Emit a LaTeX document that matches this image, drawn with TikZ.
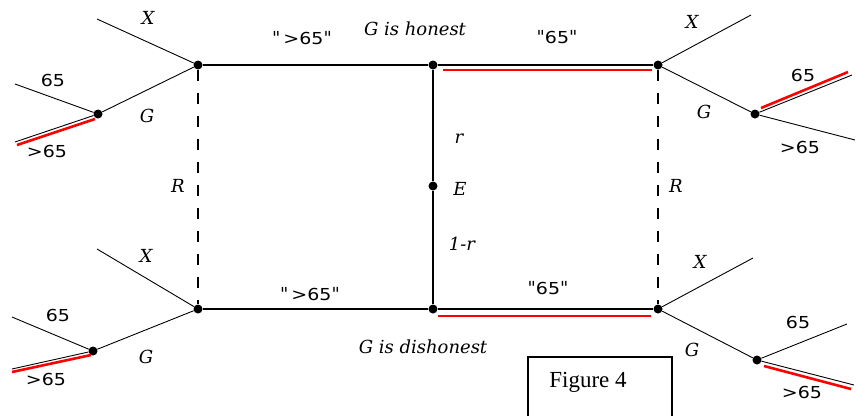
\documentclass[tikz,border=0pt]{standalone}
\usepackage{fontspec}
\setmainfont{Liberation Serif}
\newfontfamily\lblfont{DejaVu Serif}
\newfontfamily\numfont{DejaVu Sans}[FakeStretch=1.15]
\begin{document}
\begin{tikzpicture}[x=1pt,y=-1pt,
  thinl/.style={line width=0.9pt},
  mainl/.style={line width=1.3pt},
  redl/.style={red, line width=2.6pt},
  dashl/.style={line width=1.2pt, dash pattern=on 11pt off 12pt},
  dot/.style={circle, fill=black, inner sep=0pt, minimum size=9pt},
  lbl/.style={font=\lblfont\itshape\fontsize{18}{20}\selectfont, inner sep=0pt},
  num/.style={font=\numfont\fontsize{16.5}{18}\selectfont, inner sep=0pt}]
\useasboundingbox (0,0) rectangle (856,416);
% main nodes
\node[dot] (tl) at (198,65) {};
\node[dot] (tm) at (433,65) {};
\node[dot] (tr) at (658,65) {};
\node[dot] (e)  at (433,186) {};
\node[dot] (bl) at (198,309) {};
\node[dot] (bm) at (433,309) {};
\node[dot] (br) at (658,309) {};
\node[dot] (tlg) at (98,114) {};
\node[dot] (blg) at (93,351) {};
\node[dot] (trg) at (755,114) {};
\node[dot] (brg) at (757,360) {};
% free ends
\coordinate (tlx) at (97,19);  \coordinate (tl65) at (15,84);  \coordinate (tlgt) at (15,142);
\coordinate (blx) at (97,249); \coordinate (bl65) at (12,317); \coordinate (blgt) at (12,369);
\coordinate (trx) at (751,15); \coordinate (tr65) at (852,75); \coordinate (trgt) at (855,140);
\coordinate (brx) at (753,258);\coordinate (br65) at (847,324);\coordinate (brgt) at (854,385);
% red parallel strokes
\coordinate (r1a) at (443,70);  \coordinate (r1b) at (652,70);
\coordinate (r2a) at (438,316); \coordinate (r2b) at (651,316);
\coordinate (r3a) at (95,119);  \coordinate (r3b) at (17,145);
\coordinate (r4a) at (91,355);  \coordinate (r4b) at (12,372);
\coordinate (r5a) at (761,108); \coordinate (r5b) at (848,72);
\coordinate (r6a) at (764,366); \coordinate (r6b) at (851,389);
% rectangle
\draw[mainl] (tl) -- (tm) -- (tr);
\draw[mainl] (bl) -- (bm) -- (br);
\draw[mainl] (tm) -- (e) -- (bm);
\draw[dashl] (tl) -- (bl);
\draw[dashl] (tr) -- (br);
% branches
\draw[thinl] (tlx) -- (tl) -- (tlg);
\draw[thinl] (tl65) -- (tlg) -- (tlgt);
\draw[thinl] (blx) -- (bl) -- (blg);
\draw[thinl] (bl65) -- (blg) -- (blgt);
\draw[thinl] (trx) -- (tr) -- (trg);
\draw[thinl] (tr65) -- (trg) -- (trgt);
\draw[thinl] (brx) -- (br) -- (brg);
\draw[thinl] (br65) -- (brg) -- (brgt);
% red
\foreach \a/\b in {r1a/r1b,r2a/r2b,r3a/r3b,r4a/r4b,r5a/r5b,r6a/r6b}
  \draw[redl] (\a) -- (\b);
% labels
\node[lbl] (ltlx) at (148,18) {X};
\node[num] (ltl65) at (53,80) {65};
\node[lbl] (ltlg) at (147,116) {G};
\node[num] (ltlgt) at (47,151) {>65};
\node[lbl] (lr1) at (178,186) {R};
\node[lbl] (lblx) at (146,256) {X};
\node[num] (lbl65) at (58,315) {65};
\node[lbl] (lblg) at (146,357) {G};
\node[num] (lblgt) at (46,379) {>65};
\node[lbl] (ltrx) at (692,22) {X};
\node[num] (ltr65) at (803,75) {65};
\node[lbl] (ltrg) at (704,112) {G};
\node[num] (ltrgt) at (800,147) {>65};
\node[lbl] (lr2) at (676,186) {R};
\node[lbl] (lbrx) at (700,262) {X};
\node[num] (lbr65) at (798,322) {65};
\node[lbl] (lbrg) at (692,350) {G};
\node[num] (lbrgt) at (802,392) {>65};
\node[lbl] (lhon) at (415,29) {G is honest};
\node[lbl] (ldis) at (423,347) {G is dishonest};
\node[lbl] (lq1) at (302,38) {"\,{\numfont\upshape\fontsize{16.5}{18}\selectfont >65}"};
\node[lbl] (lq2) at (557,37) {"{\numfont\upshape\fontsize{16.5}{18}\selectfont 65}"};
\node[lbl] (lq3) at (310,294) {"\,{\numfont\upshape\fontsize{16.5}{18}\selectfont >65}"};
\node[lbl] (lq4) at (548,288) {"{\numfont\upshape\fontsize{16.5}{18}\selectfont 65}"};
\node[lbl] (lr) at (459,139) {r};
\node[lbl] (le) at (460,189) {E};
\node[lbl] (l1r) at (462,244) {1-r};
% figure box
\node[font=\fontsize{23}{26}\selectfont, inner sep=0pt] (fig) at (588,382) {Figure 4};
\draw[line width=1.2pt] (528,416) |- (672,357) -- (672,416);
\end{tikzpicture}
\end{document}
